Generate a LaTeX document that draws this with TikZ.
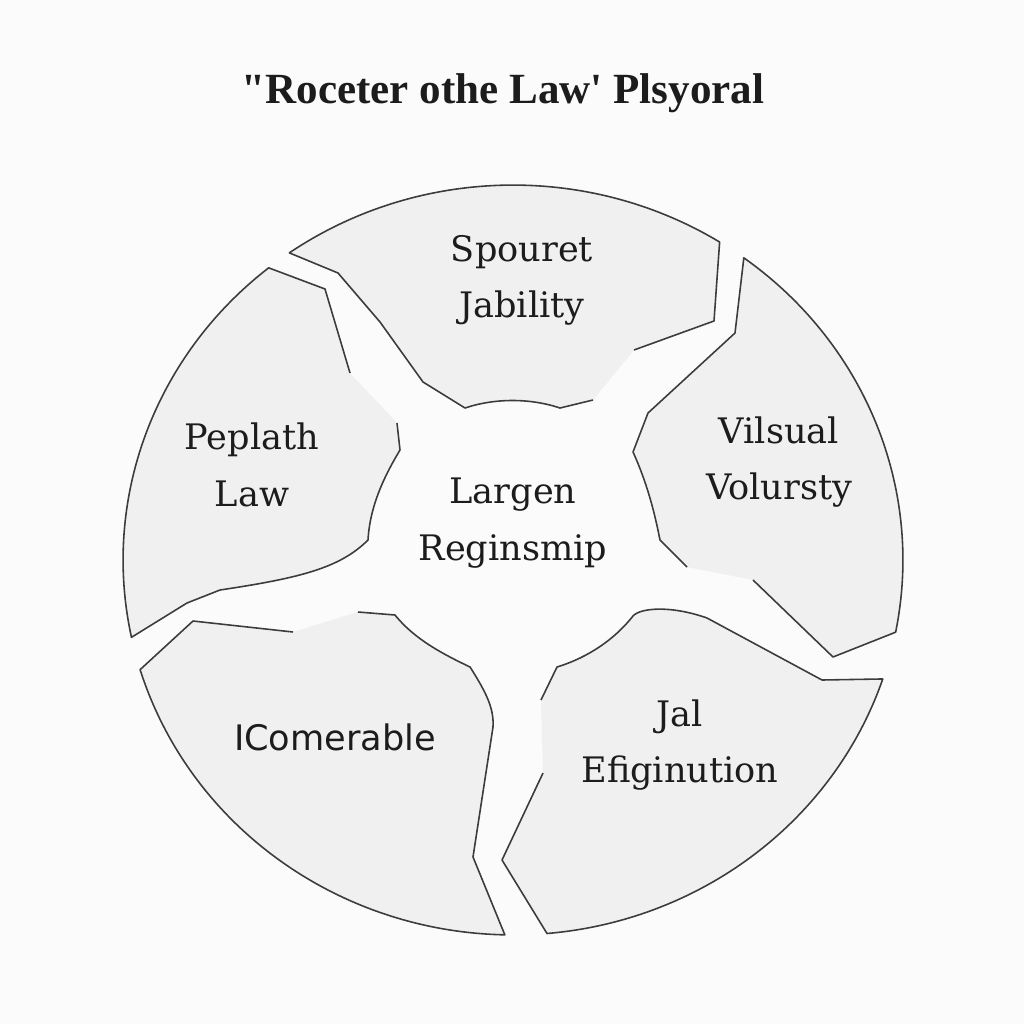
\documentclass[tikz,border=0pt]{standalone}
\usepackage{fontspec}
\setmainfont{DejaVu Serif}
\newfontfamily\titlefont{Liberation Serif}
\newfontfamily\plainsans{DejaVu Sans}
\usetikzlibrary{positioning}
\definecolor{paper}{HTML}{FBFBFB}
\definecolor{piecefill}{HTML}{F0F0F0}
\definecolor{pieceline}{HTML}{3C3C3C}
\definecolor{ink}{HTML}{1C1C1C}
\tikzset{
  piece/.style={fill=piecefill, draw=pieceline, line width=0.9pt, line join=round},
  lbl/.style={align=center, text=ink, font=\fontsize{20}{32}\selectfont},
  ttl/.style={text=ink, font=\titlefont\bfseries\fontsize{24.5}{28}\selectfont}
}

\begin{document}
\begin{tikzpicture}[x=0.02cm, y=0.02cm]
  \fill[paper] (0,0) rectangle (1024,-1024);
  \useasboundingbox (0,0) rectangle (1024,-1024);
  \coordinate (c) at (513,-560);

  % pieces (open paths: the last edge is filled but not stroked)
  \path[piece] (593,-400) -- (560,-408) .. controls (530,-398) and (495,-398) .. (465,-408)
    -- (423,-382) -- (380,-322) -- (338,-273) -- ([shift={(c)}]125:7.8cm and 7.5cm)
    arc[start angle=125, end angle=58, x radius=7.8cm, y radius=7.5cm]
    -- (714,-321) -- (634,-350);
  \path[piece] (397,-423) -- (400,-450) .. controls (385,-475) and (370,-505) .. (368,-540)
    .. controls (340,-568) and (300,-578) .. (220,-590) -- (187,-603)
    -- ([shift={(c)}]191.9:7.8cm and 7.5cm)
    arc[start angle=191.9, end angle=128.8, x radius=7.8cm, y radius=7.5cm]
    -- (325,-289) -- (350,-373);
  \path[piece] (753,-580) -- (833,-657) -- ([shift={(c)}]-11.1:7.8cm and 7.5cm)
    arc[start angle=-11.1, end angle=53.7, x radius=7.8cm, y radius=7.5cm]
    -- (735,-333) -- (648,-413) -- (633,-452) .. controls (648,-485) and (655,-515) .. (660,-540)
    -- (687,-567);
  \path[piece] (543,-773) -- (502,-860) -- ([shift={(c)}]-85:7.8cm and 7.5cm)
    arc[start angle=-85, end angle=-18.5, x radius=7.8cm, y radius=7.5cm]
    -- (822,-680) -- (707,-618) .. controls (670,-605) and (640,-608) .. (633,-616)
    .. controls (610,-645) and (580,-660) .. (557,-667) -- (541,-700);
  \path[piece] (358,-612) -- (395,-615) .. controls (415,-640) and (445,-655) .. (470,-667)
    .. controls (488,-695) and (494,-710) .. (493,-727) -- (473,-857)
    -- ([shift={(c)}]268.8:7.8cm and 7.5cm)
    arc[start angle=268.8, end angle=197, x radius=7.8cm, y radius=7.5cm]
    -- (193,-621) -- (293,-632);

  % texts
  \node[ttl] (title) at (503,-93) {"Roceter othe Law\textquotesingle{} Plsyoral};
  \node[lbl] (spouret) at (522,-280) {Spouret\\Jability};
  \node[lbl] (peplath) at (252,-465) {Peplath\\Law};
  \node[lbl] (vilsual) at (779,-462) {Vilsual\\Volursty};
  \node[lbl] (largen) at (513,-523) {Largen\\Reginsmip};
  \node[lbl, font=\plainsans\fontsize{20}{32}\selectfont] (comerable) at (335,-737) {IComerable};
  \node[lbl] (jal) at (680,-745) {Jal\\Efiginution};
\end{tikzpicture}
\end{document}
